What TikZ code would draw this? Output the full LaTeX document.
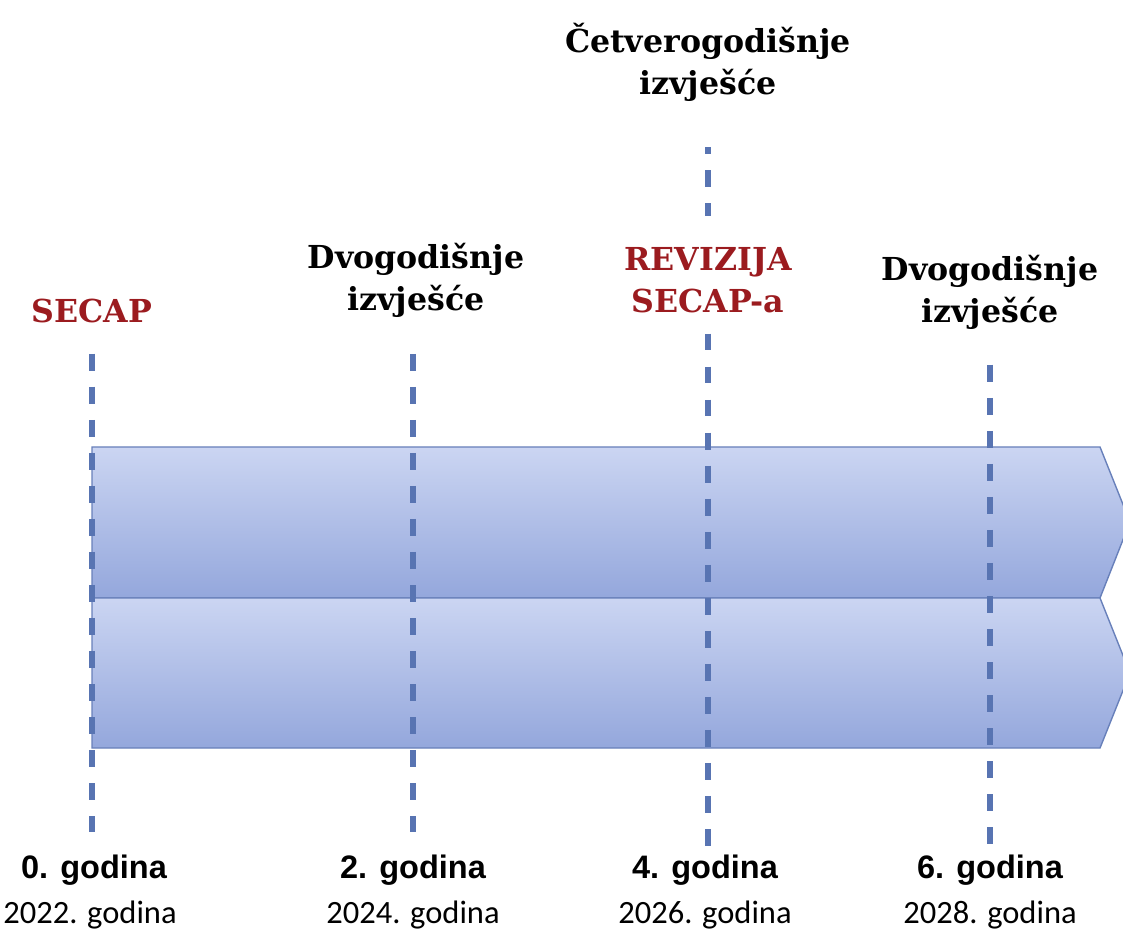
\documentclass[tikz,border=0pt]{standalone}
\usepackage{fontspec}
\setmainfont{DejaVu Serif}
\newfontfamily\boldsans{Liberation Sans}
\newfontfamily\yearfont{Carlito}
\definecolor{secapred}{RGB}{155,27,31}
\definecolor{dashblue}{RGB}{88,116,178}
\definecolor{bandtop}{RGB}{203,213,242}
\definecolor{bandbot}{RGB}{148,167,220}
\definecolor{bandline}{RGB}{104,128,186}

\begin{document}
\begin{tikzpicture}[x=0.02cm,y=-0.02cm,
  toplabel/.style={align=center,inner sep=0pt,font=\fontsize{18}{24}\selectfont\bfseries},
  redlabel/.style={toplabel,text=secapred},
  yearno/.style={inner sep=0pt,font=\boldsans\fontsize{18.5}{22}\selectfont\bfseries},
  yearname/.style={inner sep=0pt,font=\yearfont\fontsize{18.5}{22}\selectfont},
  band/.style={draw=bandline,line width=0.8pt,top color=bandtop,bottom color=bandbot},
  tickline/.style={draw=dashblue,line width=3pt,dash pattern=on 9.6pt off 9.2pt}]
\useasboundingbox (0,0) rectangle (1123,932);
\clip (0,0) rectangle (1123,932);

\draw[band] (92,447) -- (1100,447) -- (1130,522) -- (1100,598) -- (92,598) -- cycle;
\draw[band] (92,598) -- (1100,598) -- (1130,673) -- (1100,748) -- (92,748) -- cycle;

\node[redlabel] (secap) at (92,311) {SECAP};
\node[toplabel] (dvo1) at (416,280) {Dvogodišnje\\izvješće};
\node[redlabel] (rev) at (708,280) {REVIZIJA\\SECAP-a};
\node[toplabel] (cetv) at (708,62) {Četverogodišnje\\izvješće};
\node[toplabel] (dvo2) at (990,292) {Dvogodišnje\\izvješće};

\node[yearno] (g0) at (94,870) {0. godina};
\node[yearno] (g2) at (413,870) {2. godina};
\node[yearno] (g4) at (705,870) {4. godina};
\node[yearno] (g6) at (990,870) {6. godina};
\node[yearname] (y0) at (90,915) {2022. godina};
\node[yearname] (y2) at (413,915) {2024. godina};
\node[yearname] (y4) at (705,915) {2026. godina};
\node[yearname] (y6) at (990,915) {2028. godina};

\draw[tickline,shorten <=17.3pt,shorten >=12.8pt] (secap) -- (secap |- g0.north);
\draw[tickline,shorten <=20.6pt,shorten >=12.8pt] (dvo1.south -| g2) -- (g2);
\draw[tickline,dash phase=5.7pt,shorten <=26pt,shorten >=17.3pt] (cetv) -- (rev);
\draw[tickline,shorten <=11.6pt,shorten >=4.9pt] (rev) -- (rev |- g4.north);
\draw[tickline,shorten <=20pt,shorten >=5.4pt] (dvo2) -- (g6);
\end{tikzpicture}
\end{document}
